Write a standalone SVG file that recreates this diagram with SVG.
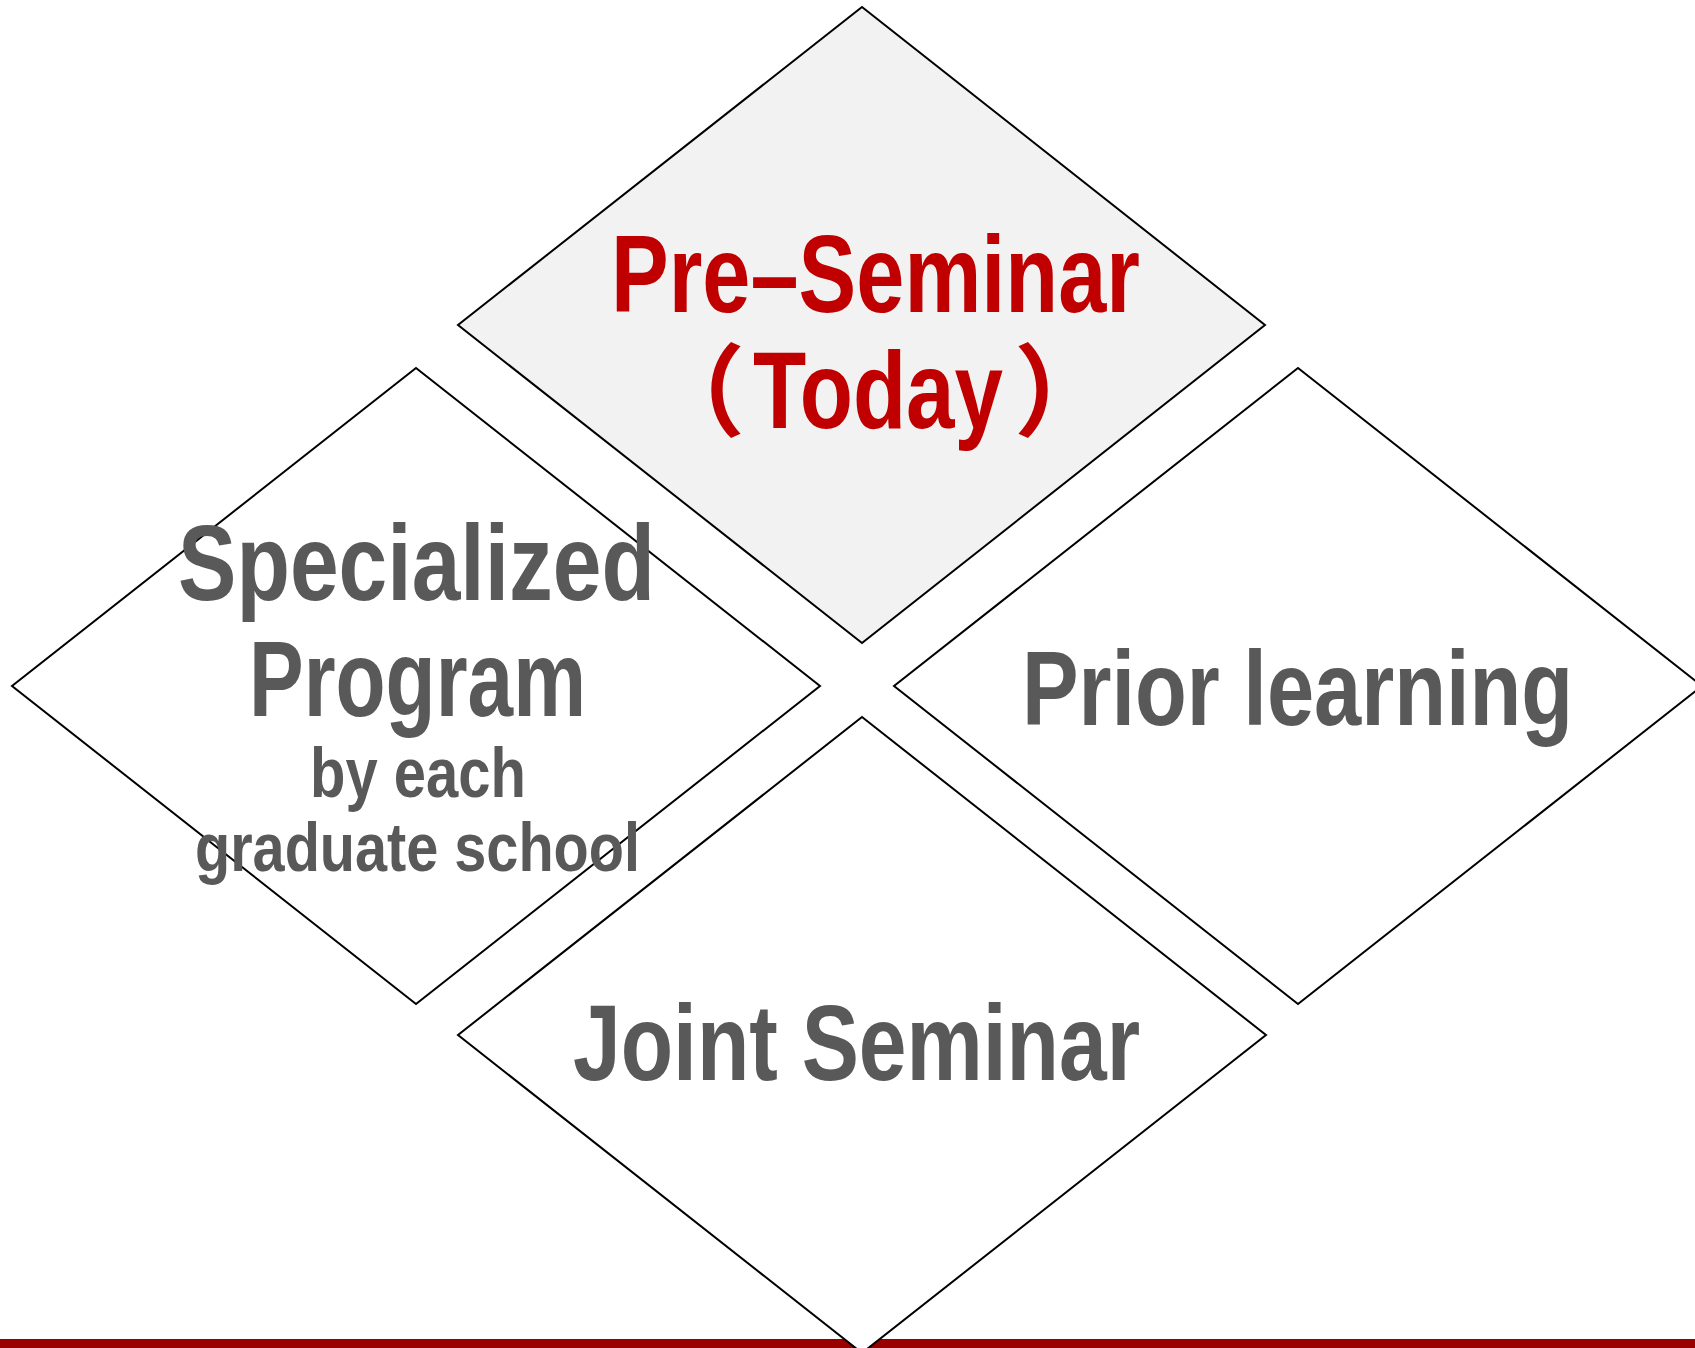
<svg xmlns="http://www.w3.org/2000/svg" width="1695" height="1348" viewBox="0 0 1695 1348">
<style>
.d{stroke:#000;stroke-width:2;fill:#fff}
.t{font-family:"Liberation Sans","Noto Sans CJK JP",sans-serif;font-weight:bold;fill:#595959}
.r{fill:#c00000}
.p{font-family:"Noto Sans CJK JP","Liberation Sans",sans-serif;font-weight:bold}
</style>
<rect x="0" y="0" width="1695" height="1348" fill="#fff"/>
<rect id="bar" x="0" y="1339" width="1695" height="9" fill="#990000"/>
<g id="pre-seminar">
<polygon class="d" points="862,7 1265,325 862,643 458,325" style="fill:#f2f2f2"/>
</g>
<g id="specialized">
<polygon class="d" points="416,368 820,686 416,1004 12,686"/>
</g>
<g id="prior">
<polygon class="d" points="1298,368 1702,686 1298,1004 894,686"/>
</g>
<g id="joint">
<polygon class="d" points="862,717 1266,1035 862,1353 458,1035"/>
</g>
<g id="connectors"></g>
<g id="labels">
<text class="t r" x="611" y="312" font-size="110" textLength="529" lengthAdjust="spacingAndGlyphs">Pre–Seminar</text>
<text class="t r" y="428" font-size="110"><tspan class="p" x="745" text-anchor="end" font-size="100">（</tspan><tspan x="753" textLength="250" lengthAdjust="spacingAndGlyphs">Today</tspan><tspan class="p" x="1014" font-size="100">）</tspan></text>
<text class="t" x="178" y="600" font-size="108" textLength="477" lengthAdjust="spacingAndGlyphs">Specialized</text>
<text class="t" x="249" y="716" font-size="108" textLength="337" lengthAdjust="spacingAndGlyphs">Program</text>
<text class="t" x="310" y="797" font-size="70" textLength="216" lengthAdjust="spacingAndGlyphs">by each</text>
<text class="t" x="195" y="871" font-size="68" textLength="445" lengthAdjust="spacingAndGlyphs">graduate school</text>
<text class="t" x="1022" y="725" font-size="105" textLength="551" lengthAdjust="spacingAndGlyphs">Prior learning</text>
<text class="t" x="573" y="1080" font-size="107" textLength="567" lengthAdjust="spacingAndGlyphs">Joint Seminar</text>
</g>
</svg>
